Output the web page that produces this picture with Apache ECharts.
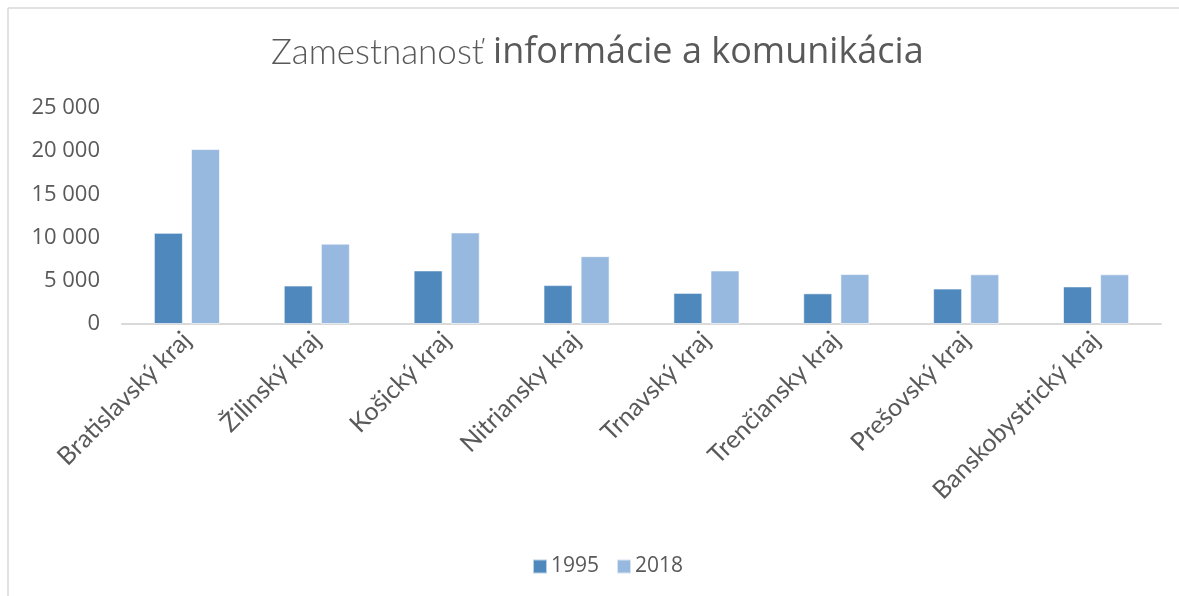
<!DOCTYPE html>
<html>
<head>
<meta charset="utf-8">
<script src="https://cdn.jsdelivr.net/npm/echarts@6/dist/echarts.min.js"></script>
<style>
html,body{margin:0;padding:0;background:#fff;}
#chart{width:1179px;height:596px;}
</style>
</head>
<body>
<div id="chart"></div>
<script>
const categories = ["Bratislavský kraj","Žilinský kraj","Košický kraj","Nitriansky kraj","Trnavský kraj","Trenčiansky kraj","Prešovský kraj","Banskobystrický kraj"];
const values1995 = [10550, 4450, 6200, 4500, 3600, 3550, 4100, 4350];
const values2018 = [20250, 9300, 10600, 7850, 6200, 5780, 5750, 5750];
const seriesNames = ["1995", "2018"];
const yTicks = [0, 5000, 10000, 15000, 20000, 25000];

const chart = echarts.init(document.getElementById('chart'));
const fmt = v => String(v).replace(/\B(?=(\d{3})+(?!\d))/g, ' ');
chart.setOption({
  animation: false,
  backgroundColor: '#fff',
  graphic: [
    {type:'line', shape:{x1:8,y1:8,x2:1179,y2:8}, style:{stroke:'#d9d9d9', lineWidth:1.5}},
    {type:'line', shape:{x1:8,y1:8,x2:8,y2:596}, style:{stroke:'#d9d9d9', lineWidth:1.5}}
  ],
  title: {
    text: '{a|Zamestnanosť}{b| informácie a komunikácia}',
    left: 266,
    top: 30,
    textStyle: {
      rich: {
        a: {fontFamily: 'Lato', fontWeight: 300, fontSize: 35, color: '#595959'},
        b: {fontFamily: 'Open Sans', fontWeight: 400, fontSize: 36, color: '#595959'}
      }
    }
  },
  legend: {
    data: seriesNames,
    bottom: 14,
    left: 527,
    itemWidth: 14,
    itemHeight: 14,
    itemGap: 17,
    icon: 'rect',
    textStyle: {fontFamily: 'Open Sans', fontSize: 21, color: '#595959', padding:[0,0,0,-1]}
  },
  grid: {left: 122, right: 18, top: 108, height: 216, containLabel: false},
  xAxis: {
    type: 'category',
    data: categories,
    axisLine: {lineStyle: {color: '#d9d9d9', width: 2}},
    axisTick: {show: false},
    axisLabel: {rotate: 45, interval: 0, margin: 12, fontFamily: 'Lato', fontSize: 25, color: '#595959'}
  },
  yAxis: {
    type: 'value',
    min: yTicks[0],
    max: yTicks[yTicks.length-1],
    interval: 5000,
    splitLine: {show: false},
    axisLine: {show: false},
    axisTick: {show: false},
    axisLabel: {fontFamily: 'Open Sans', fontSize: 22, color: '#595959', margin: 22, formatter: v => fmt(v)}
  },
  series: [
    {name: seriesNames[0], type: 'bar', data: values1995, barWidth: 29, barGap: '28%',
     itemStyle: {color: '#4e88bd', borderColor: 'rgba(255,255,255,0.6)', borderWidth: 1}},
    {name: seriesNames[1], type: 'bar', data: values2018, barWidth: 29,
     itemStyle: {color: '#98b9df', borderColor: 'rgba(255,255,255,0.6)', borderWidth: 1}}
  ]
});
</script>
</body>
</html>
